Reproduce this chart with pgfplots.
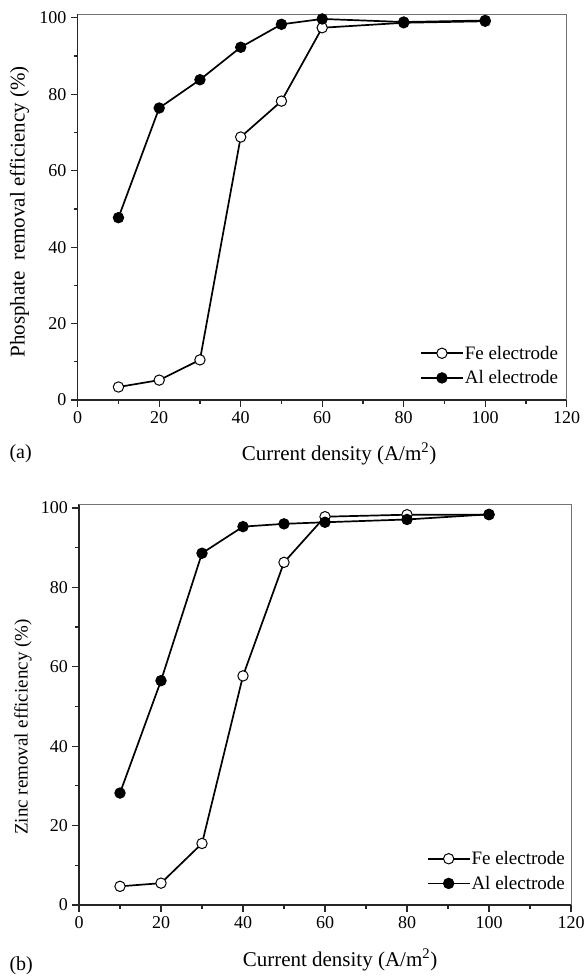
\documentclass[border=0pt]{standalone}
\usepackage{fontspec}
\setmainfont{Liberation Serif}
\usepackage{pgfplots}
\pgfplotsset{compat=1.18}
\pgfplotsset{
  myaxis/.style={
    scale only axis,
    xmin=0, xmax=120, ymin=0, ymax=101,
    xtick={0,20,...,120}, ytick={0,20,...,100},
    minor xtick={10,30,...,110}, minor ytick={10,30,...,90},
    axis x line*=bottom, axis y line*=left,
    axis line style={-, line width=1.4pt, black!85},
    tick align=outside,
    major tick length=6.7pt, minor tick length=4pt,
    every tick/.style={line width=1.2pt, black!85},
    every tick label/.append style={font=\fontsize{18}{21}\selectfont},
    /pgf/number format/assume math mode=true,
    xticklabel style={yshift=-1pt},
    yticklabel style={xshift=-1pt},
    clip=false,
    legend cell align=left,
    legend image code/.code={\draw[mark repeat=2,mark phase=2] plot coordinates {(0pt,0pt) (21pt,0pt) (42pt,0pt)};},
    legend style={draw=none, fill=none, anchor=south east, inner sep=0pt,
      font=\fontsize{19}{22}\selectfont, row sep=8pt,
      nodes={inner sep=1pt}},
  },
  fe/.style={black, line width=1.7pt, mark=*, mark size=5.2pt,
    mark options={fill=white, draw=black, line width=1pt}},
  al/.style={black, line width=1.7pt, mark=*, mark size=5.2pt,
    mark options={fill=black, draw=black, line width=1pt}},
}
\begin{document}
\begin{tikzpicture}
\useasboundingbox (0pt,0pt) rectangle (584pt,977pt);
% ---------- panel (a)
\begin{axis}[myaxis, at={(77.7pt,577pt)}, anchor=south west, width=489pt, height=386pt,
  legend style={at={(rel axis cs:0.985,0.035)}}]
\addplot[fe] coordinates {(10,3.4) (20,5.2) (30,10.5) (40,68.8) (50,78.2) (60,97.4) (80,98.7) (100,99.1)};
\addlegendentry{Fe electrode}
\addplot[al] coordinates {(10,47.7) (20,76.4) (30,83.8) (40,92.3) (50,98.3) (60,99.7) (80,98.9) (100,99.3)};
\addlegendentry{Al electrode}
\draw[black!55, line width=0.8pt] (rel axis cs:0,1) -- (rel axis cs:1,1) -- (rel axis cs:1,0);
\end{axis}
\node[font=\fontsize{21}{24}\selectfont, rotate=90] at (19.5pt,765pt) {Phosphate\ \ removal efficiency (\%)};
\node[font=\fontsize{21}{24}\selectfont] at (339pt,523pt) {Current density (A/m\textsuperscript{2})};
\node[font=\fontsize{20}{24}\selectfont, anchor=west] at (6pt,523pt) {(a)};
% ---------- panel (b)
\begin{axis}[myaxis, at={(79pt,72pt)}, anchor=south west, width=492pt, height=401pt,
  legend style={at={(rel axis cs:0.99,0.0325)}}]
\addplot[fe] coordinates {(10,4.7) (20,5.5) (30,15.5) (40,57.7) (50,86.3) (60,97.8) (80,98.3) (100,98.3)};
\addlegendentry{Fe electrode}
\addplot[al] coordinates {(10,28.2) (20,56.5) (30,88.6) (40,95.3) (50,96.0) (60,96.4) (80,97.1) (100,98.4)};
\addlegendentry{Al electrode}
\draw[black!55, line width=0.8pt] (rel axis cs:0,1) -- (rel axis cs:1,1) -- (rel axis cs:1,0);
\end{axis}
\node[font=\fontsize{19}{22}\selectfont, rotate=90] at (23pt,250pt) {Zinc removal efficiency (\%)};
\node[font=\fontsize{21}{24}\selectfont] at (340pt,17pt) {Current density (A/m\textsuperscript{2})};
\node[font=\fontsize{20}{24}\selectfont, anchor=west] at (6pt,11pt) {(b)};
\end{tikzpicture}
\end{document}
